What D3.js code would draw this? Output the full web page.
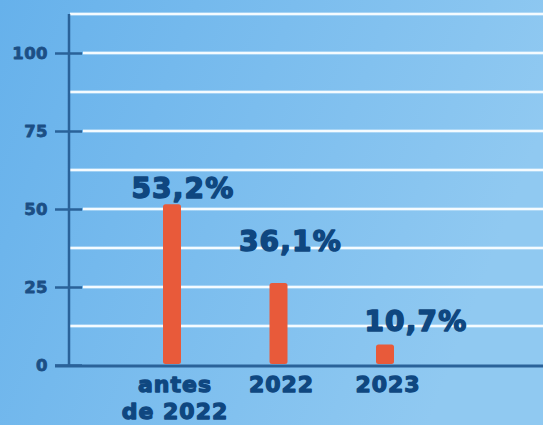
<!DOCTYPE html>
<html>
<head>
<meta charset="utf-8">
<script src="https://cdn.jsdelivr.net/npm/d3@7"></script>
<style>
  html, body { margin: 0; padding: 0; }
  svg { display: block; }
  svg text { font-family: "DejaVu Sans", Verdana, sans-serif; font-weight: 700; paint-order: stroke; stroke-linejoin: round; }
</style>
</head>
<body>
<script>
// ---- data ----
const categories = [["antes", "de 2022"], ["2022"], ["2023"]];
const barValues = [51.5, 26.3, 6.6];
const labelValues = [53.2, 36.1, 10.7];
const labelTexts = ["53,2%", "36,1%", "10,7%"];
const majorTicks = [0, 25, 50, 75, 100];
const minorGrid = [12.5, 37.5, 62.5, 87.5, 112.5];

// ---- layout ----
const W = 543, H = 425;
const labelDx = [11, 12, 31];
const textCol = "#0f4780";

const svg = d3.select("body").append("svg").attr("width", W).attr("height", H);
const defs = svg.append("defs");
const grad = defs.append("linearGradient").attr("id", "bg")
  .attr("x1", "0").attr("y1", "0").attr("x2", "1").attr("y2", "0.3");
grad.append("stop").attr("offset", "0").attr("stop-color", "#66b1eb");
grad.append("stop").attr("offset", "1").attr("stop-color", "#90c9f1");
svg.append("rect").attr("width", W).attr("height", H).attr("fill", "url(#bg)");

const y = d3.scaleLinear().domain([0, 112.5]).range([365, 14]);
const x = d3.scalePoint().domain(d3.range(categories.length)).range([172, 385]);
const axisX = 69;

// gridlines
const gridCol = "#f4fbff";
const gridG = svg.append("g");
function grid(vals, x1) {
  gridG.append("g").selectAll("line").data(vals).join("line")
    .attr("x1", x1).attr("x2", W)
    .attr("y1", d => y(d)).attr("y2", d => y(d))
    .attr("stroke", "#d8eefc").attr("stroke-width", 4).attr("stroke-opacity", 0.45);
  gridG.append("g").selectAll("line").data(vals).join("line")
    .attr("x1", x1).attr("x2", W)
    .attr("y1", d => y(d)).attr("y2", d => y(d))
    .attr("stroke", gridCol).attr("stroke-width", 2);
}
grid(minorGrid, axisX + 1);
grid(majorTicks.filter(d => d > 0), 83);

// y axis
const axisCol = "#2a6299";
const yAxis = d3.axisLeft(y).tickValues(majorTicks).tickSize(0).tickPadding(0);
const gy = svg.append("g").attr("transform", `translate(${axisX},0)`).call(yAxis);
gy.select(".domain").remove();
gy.selectAll(".tick line").remove();
gy.selectAll(".tick").append("line")
  .attr("x1", -14).attr("x2", 13).attr("stroke", axisCol).attr("stroke-width", 2.5);
gy.selectAll(".tick text")
  .attr("x", -21).attr("dy", "0.36em")
  .attr("fill", "#1c4f85").attr("stroke", "#1c4f85").attr("stroke-width", 0.8)
  .attr("font-family", null)
  .style("font-size", "16.5px").attr("letter-spacing", 0.4).attr("text-anchor", "end");
svg.append("line").attr("x1", axisX).attr("x2", axisX)
  .attr("y1", y(112.5)).attr("y2", y(0))
  .attr("stroke", axisCol).attr("stroke-width", 2.5);
// baseline
svg.append("line").attr("x1", 55).attr("x2", W)
  .attr("y1", y(0) + 1).attr("y2", y(0) + 1)
  .attr("stroke", axisCol).attr("stroke-width", 3);

// bars
const bw = 18;
svg.append("g").selectAll("rect").data(barValues).join("rect")
  .attr("x", (d, i) => x(i) - bw / 2)
  .attr("y", d => y(d))
  .attr("width", bw)
  .attr("height", d => y(0) - y(d) - 1)
  .attr("rx", 2.5)
  .attr("fill", "#e85a3a");

// value labels
svg.append("g").selectAll("text").data(labelTexts).join("text")
  .attr("x", (d, i) => x(i) + labelDx[i])
  .attr("y", (d, i) => y(labelValues[i]) - 1)
  .attr("text-anchor", "middle")
  .style("font-size", "28px").attr("letter-spacing", 1.2)
  .attr("fill", textCol).attr("stroke", textCol).attr("stroke-width", 1.5)
  .text(d => d);

// category labels
const cg = svg.append("g").selectAll("text").data(categories).join("text")
  .attr("x", (d, i) => x(i) + 3)
  .attr("y", 392)
  .attr("text-anchor", "middle")
  .style("font-size", "22px").attr("letter-spacing", 1)
  .attr("fill", textCol).attr("stroke", textCol).attr("stroke-width", 1.3);
cg.selectAll("tspan").data(d => d).join("tspan")
  .attr("x", function() { return d3.select(this.parentNode).attr("x"); })
  .attr("dy", (d, i) => i === 0 ? 0 : 27)
  .text(d => d);
</script>
</body>
</html>
